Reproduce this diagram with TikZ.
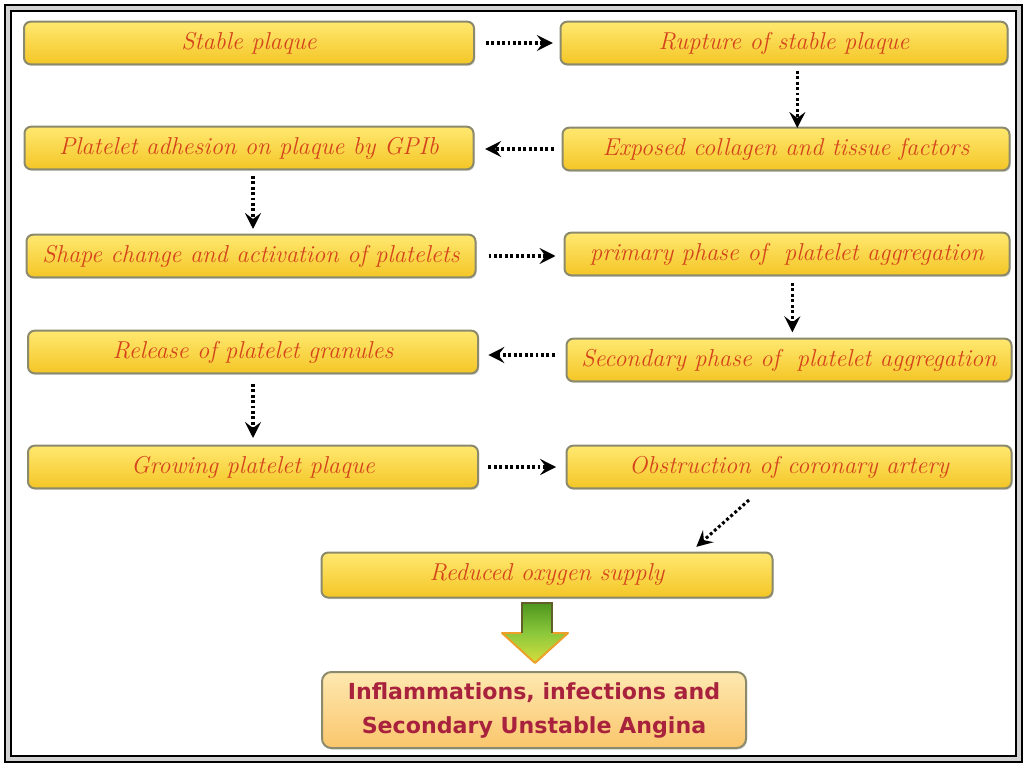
\documentclass[tikz,border=0pt]{standalone}
\usepackage{fontspec}
\newfontfamily\headfont{DejaVu Sans}
\usetikzlibrary{arrows.meta,shadows,calc}

\definecolor{boxedge}{RGB}{140,138,108}
\definecolor{boxtop}{RGB}{255,232,112}
\definecolor{boxmid}{RGB}{254,214,48}
\definecolor{boxbot}{RGB}{244,198,38}
\definecolor{steptext}{RGB}{212,68,28}
\definecolor{endtop}{RGB}{254,232,176}
\definecolor{endbot}{RGB}{250,198,108}
\definecolor{endtext}{RGB}{168,34,62}
\definecolor{bigtop}{RGB}{78,150,30}
\definecolor{bigmid}{RGB}{140,200,60}
\definecolor{bigbot}{RGB}{214,222,60}
\definecolor{bigedge}{RGB}{236,160,40}

\tikzset{
  stepbox/.style={draw=boxedge, line width=1.5pt, rounded corners=5pt,
    top color=boxtop, middle color=boxmid, bottom color=boxbot,
    drop shadow={shadow xshift=0.8pt, shadow yshift=-1.2pt, opacity=0.3},
    text=steptext, font=\itshape\fontsize{18.3}{20}\selectfont,
    inner sep=0pt, minimum height=32pt},
  endbox/.style={draw=boxedge, line width=1.5pt, rounded corners=7pt,
    top color=endtop, bottom color=endbot,
    drop shadow={shadow xshift=0.8pt, shadow yshift=-1.2pt, opacity=0.3},
    text=endtext, align=center,
    font=\headfont\bfseries\fontsize{16.6}{25.5}\selectfont,
    inner sep=0pt, minimum width=318pt, minimum height=57pt},
  flow/.style={line width=2.3pt, dash pattern=on 2.2pt off 1.9pt,
    -{Stealth[length=12pt,width=12pt,inset=4.5pt]}},
}

\begin{document}
\begin{tikzpicture}[x=0.75pt,y=-0.75pt]
\useasboundingbox (0,0) rectangle (1024,763);
\fill[white] (0,0) rectangle (1024,763);

% outer frame
\draw[line width=1.8pt, double=gray!35, double distance=3pt]
  (8,8) rectangle (1019,759);

% steps, left column
\node[stepbox, minimum width=337.5pt] (a1) at (249,43) {Stable plaque};
\node[stepbox, minimum width=336.75pt] (b1) at (249,148) {Platelet adhesion on plaque by GPIb};
\node[stepbox, minimum width=336.75pt] (c1) at (251,256) {Shape change and activation of platelets};
\node[stepbox, minimum width=337.5pt] (d1) at (253,352) {Release of platelet granules};
\node[stepbox, minimum width=337.5pt] (e1) at (253,467) {Growing platelet plaque};

% steps, right column
\node[stepbox, minimum width=335.25pt] (a2) at (784,43) {Rupture of stable plaque};
\node[stepbox, minimum width=335.25pt] (b2) at (786,149) {Exposed collagen and tissue factors};
\node[stepbox, minimum width=333.75pt] (c2) at (787,254) {primary phase of \ platelet aggregation};
\node[stepbox, minimum width=333.75pt] (d2) at (789,360) {Secondary phase of \ platelet aggregation};
\node[stepbox, minimum width=333.75pt] (e2) at (789,467) {Obstruction of coronary artery};

% bottom
\node[stepbox, minimum width=338.25pt, minimum height=33.75pt] (f) at (547,575) {Reduced oxygen supply};
\node[endbox] (g) at (534,710) {Inflammations, infections and\\Secondary Unstable Angina};

% dotted connectors
\draw[flow] ([xshift=8pt]a1.east) -- ([xshift=-5pt]a2.west);
\draw[flow] ([xshift=10pt,yshift=-4pt]a2.south) -- ([xshift=10pt,yshift=-1pt]a2.south |- b2.north);
\draw[flow] ([xshift=-6pt]b2.west) -- ([xshift=8pt]b2.west -| b1.east);
\draw[flow] ([xshift=3pt,yshift=-4pt]b1.south) -- ([xshift=3pt,yshift=3.5pt]b1.south |- c1.north);
\draw[flow] ([xshift=9pt]c1.east) -- ([xshift=-6pt]c1.east -| c2.west);
\draw[flow] ([xshift=4pt,yshift=-5pt]c2.south) -- ([xshift=4pt,yshift=4pt]c2.south |- d2.north);
\draw[flow] ([xshift=-8pt,yshift=3.75pt]d2.west) -- ([xshift=7pt,yshift=3.75pt]d2.west -| d1.east);
\draw[flow] ([yshift=-7pt]d1.south) -- ([yshift=5pt]d1.south |- e1.north);
\draw[flow] ([xshift=7pt]e1.east) -- ([xshift=-7pt]e1.east -| e2.west);
\draw[flow] ([xshift=-30pt,yshift=-8pt]e2.south) -- ([xshift=112pt,yshift=3.5pt]f.north);

% block arrow between the last two boxes
\path[top color=bigtop, bottom color=bigbot, middle color=bigmid]
  (522,603) -- (552,603) -- (552,633) -- (568,633) -- (535,663)
  -- (502,633) -- (522,633) -- cycle;
\draw[bigedge, line width=1.5pt, line join=round]
  (552,633) -- (568,633) -- (535,663) -- (502,633) -- (522,633);
\draw[olive!60!black, line width=1.2pt] (522,633) -- (522,603) -- (552,603) -- (552,633);
\end{tikzpicture}
\end{document}
